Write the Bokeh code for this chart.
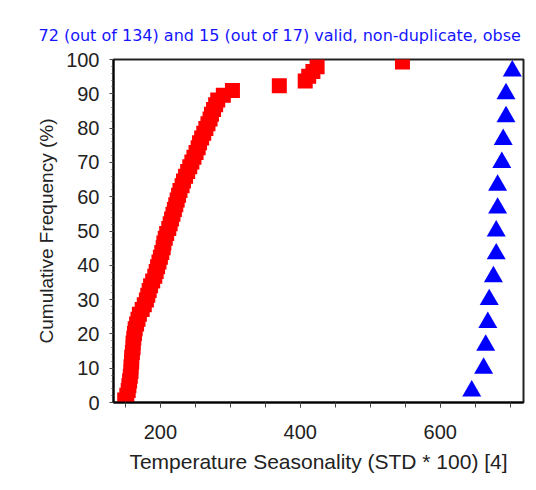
from bokeh.plotting import figure
from bokeh.models import ColumnDataSource, Range1d, FixedTicker
from bokeh.embed import file_html
from bokeh.resources import INLINE

title_text = "72 (out of 134) and 15 (out of 17) valid, non-duplicate, obse"
x_label = "Temperature Seasonality (STD * 100) [4]"
y_label = "Cumulative Frequency (%)"

# Series 1 (red squares): 72 sorted values
red_values = [149, 152, 154, 155, 156, 157, 158, 158, 159, 159,
              160, 161, 161, 162, 163, 164, 166, 168, 170, 174,
              177, 180, 182, 184, 186, 189, 192, 194, 196, 198,
              200, 202, 204, 205, 207, 209, 212, 214, 216, 218,
              220, 222, 224, 226, 228, 231, 233, 236, 239, 242,
              245, 248, 251, 254, 256, 259, 262, 265, 268, 271,
              273, 276, 279, 282, 290, 303, 370, 407, 412, 418,
              424, 546]
# Series 2 (blue triangles): 15 sorted values
blue_values = [645, 662, 665, 668, 670, 676, 680, 680, 682, 682,
               688, 690, 694, 694, 703]

x_ticks = [200, 400, 600]
y_ticks = [0, 10, 20, 30, 40, 50, 60, 70, 80, 90, 100]


def cum_freq(vals):
    n = len(vals)
    return [(i + 0.5) / n * 100 for i in range(n)]


red_src = ColumnDataSource(dict(x=red_values, y=cum_freq(red_values)))
blue_src = ColumnDataSource(dict(x=blue_values, y=cum_freq(blue_values)))

FONT = "Liberation Sans"

p = figure(width=536, height=490, output_backend="svg", toolbar_location=None,
           x_range=Range1d(133, 719), y_range=Range1d(0, 100),
           min_border_left=113, min_border_right=13, min_border_top=59,
           min_border_bottom=88)

p.title.text = title_text
p.title.align = "left"
p.title.offset = -75
p.title.standoff = 29
p.title.text_color = "#1414ff"
p.title.text_font = "DejaVu Sans"
p.title.text_font_size = "16px"
p.title.text_font_style = "normal"

p.grid.visible = False
p.outline_line_color = "#222222"
p.outline_line_width = 2
p.background_fill_color = "white"
p.border_fill_color = "white"

p.scatter("x", "y", source=red_src, marker="square", size=15,
          fill_color="#ff0000", line_color=None)
p.scatter("x", "y", source=blue_src, marker="triangle", size=19,
          fill_color="#0000ff", line_color=None)

for ax in (p.xaxis[0], p.yaxis[0]):
    ax.axis_line_color = "black"
    ax.axis_line_width = 2
    ax.major_tick_line_color = "#444444"
    ax.minor_tick_line_color = "#444444"
    ax.major_label_text_font = FONT
    ax.major_label_text_font_size = "20px"
    ax.major_label_text_color = "#222222"
    ax.axis_label_text_font = FONT
    ax.axis_label_text_font_style = "normal"
    ax.axis_label_text_color = "#222222"
    ax.major_tick_in = 0
    ax.minor_tick_in = 0

p.xaxis.axis_label_text_font_size = "21px"
p.yaxis.axis_label_text_font_size = "19px"
p.xaxis.ticker = FixedTicker(ticks=x_ticks, minor_ticks=list(range(150, 720, 50)))
p.yaxis.ticker = FixedTicker(ticks=y_ticks, minor_ticks=list(range(0, 101, 2)))
p.xaxis.major_tick_out = 5
p.xaxis.minor_tick_out = 5
p.yaxis.major_tick_out = 4
p.yaxis.minor_tick_out = 2
p.xaxis.axis_label = x_label
p.yaxis.axis_label = y_label
p.xaxis.major_label_standoff = 17
p.yaxis.major_label_standoff = 10
p.xaxis.axis_label_standoff = 8
p.yaxis.axis_label_standoff = 6

open("out.html", "w").write(file_html(p, INLINE))
